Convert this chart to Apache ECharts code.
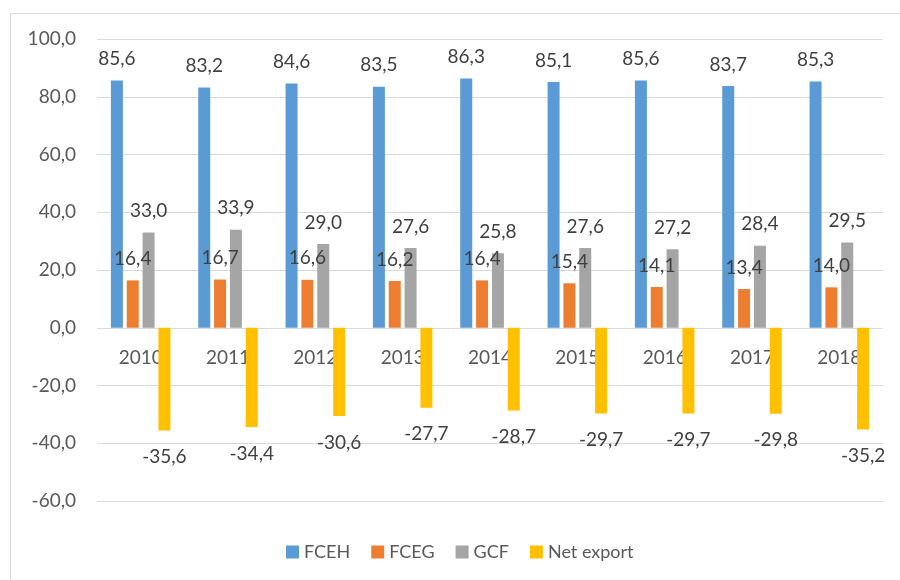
<!DOCTYPE html>
<html>
<head>
<meta charset="utf-8">
<script src="https://cdn.jsdelivr.net/npm/echarts@6/dist/echarts.min.js"></script>
<style>
  html, body { margin: 0; padding: 0; background: #ffffff; }
  #chart { width: 900px; height: 580px; }
</style>
</head>
<body>
<div id="chart"></div>
<script>
// Years on the category axis
const years = ['2010', '2011', '2012', '2013', '2014', '2015', '2016', '2017', '2018'];

// Components, % of GDP
const fceh = [85.6, 83.2, 84.6, 83.5, 86.3, 85.1, 85.6, 83.7, 85.3];
const fceg = [16.4, 16.7, 16.6, 16.2, 16.4, 15.4, 14.1, 13.4, 14.0];
const gcf = [33.0, 33.9, 29.0, 27.6, 25.8, 27.6, 27.2, 28.4, 29.5];
const netExport = [-35.6, -34.4, -30.6, -27.7, -28.7, -29.7, -29.7, -29.8, -35.2];

const seriesNames = ['FCEH', 'FCEG', 'GCF', 'Net export'];
const colors = ['#5B9BD5', '#ED7D31', '#A5A5A5', '#FFC000'];

const FONT = 'Lato, "Open Sans", sans-serif';
const fmt = v => Number(v).toFixed(1).replace('.', ',');

const Y_MIN = -60, Y_MAX = 100;
const GRID_TOP = 39, GRID_BOTTOM = 79, CHART_H = 580;
// pixel distance from the zero line to the bottom of the plot
const zeroToBottom = (CHART_H - GRID_TOP - GRID_BOTTOM) * (0 - Y_MIN) / (Y_MAX - Y_MIN);

function makeSeries(name, data, color) {
  const negative = data.every(v => v < 0);
  return {
    name: name,
    type: 'bar',
    z: 5,
    data: data,
    barWidth: 12,
    barGap: '32%',
    itemStyle: { color: color },
    label: {
      show: true,
      fontFamily: FONT,
      fontSize: 19,
      color: '#404040',
      formatter: p => fmt(p.value),
      position: negative ? 'bottom' : 'top',
      distance: negative ? 17 : 12
    },
    emphasis: { disabled: true }
  };
}

const chart = echarts.init(document.getElementById('chart'), null, { renderer: 'canvas' });

chart.setOption({
  animation: false,
  backgroundColor: '#ffffff',
  textStyle: { fontFamily: FONT },
  graphic: [{
    type: 'rect',
    shape: { x: 10.5, y: 13.5, width: 900, height: 600 },
    style: { fill: 'none', stroke: '#d9d9d9', lineWidth: 1 },
    silent: true,
    z: -1
  }],
  grid: { left: 97, right: 17, top: GRID_TOP, bottom: GRID_BOTTOM, containLabel: false },
  legend: {
    data: seriesNames,
    left: 281,
    top: 538,
    itemWidth: 13,
    itemHeight: 13,
    itemGap: 21,
    icon: 'rect',
    textStyle: { fontFamily: FONT, fontSize: 18, color: '#595959' },
    selectedMode: false
  },
  xAxis: {
    type: 'category',
    data: years,
    z: 1,
    offset: -zeroToBottom,
    axisLine: { show: false, onZero: false },
    axisTick: { show: false },
    axisLabel: { fontFamily: FONT, fontSize: 19, color: '#595959', margin: 21 },
    splitLine: { show: false }
  },
  yAxis: {
    type: 'value',
    min: Y_MIN,
    max: Y_MAX,
    interval: 20,
    axisLine: { show: false },
    axisTick: { show: false },
    axisLabel: { fontFamily: FONT, fontSize: 19, color: '#595959', margin: 21, formatter: v => fmt(v) },
    splitLine: { lineStyle: { color: '#d9d9d9', width: 1 } }
  },
  series: [
    makeSeries(seriesNames[0], fceh, colors[0]),
    makeSeries(seriesNames[1], fceg, colors[1]),
    makeSeries(seriesNames[2], gcf, colors[2]),
    makeSeries(seriesNames[3], netExport, colors[3])
  ]
});
</script>
</body>
</html>
